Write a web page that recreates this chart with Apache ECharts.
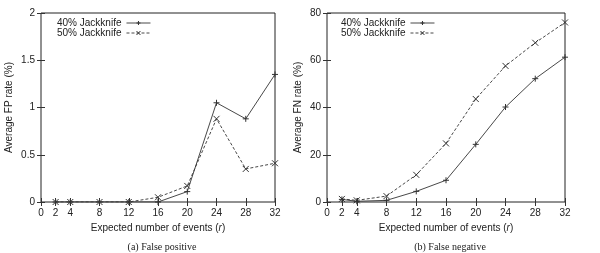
<!DOCTYPE html>
<html><head><meta charset="utf-8">
<script src="https://cdn.jsdelivr.net/npm/echarts@6/dist/echarts.min.js"></script>
<style>html,body{margin:0;padding:0;background:#fff}#c{width:600px;height:253px}</style>
</head><body><div id="c"></div>
<script>
const xValues = [2, 4, 8, 12, 16, 20, 24, 28, 32];
const xTicks = [0, 2, 4, 8, 12, 16, 20, 24, 28, 32];
const fp40 = [0, 0, 0, 0, 0, 0.11, 1.05, 0.88, 1.35];
const fp50 = [0, 0, 0, 0, 0.05, 0.17, 0.88, 0.35, 0.41];
const fn40 = [1.1, 0.3, 0.7, 4.5, 9.2, 24.4, 40.2, 52.2, 61.3];
const fn50 = [1.3, 0.7, 2.5, 11.5, 24.8, 43.6, 57.6, 67.4, 76.0];
const legendNames = ['40% Jackknife', '50% Jackknife'];
const captions = ['(a) False positive', '(b) False negative'];
const yNames = ['Average FP rate (%)', 'Average FN rate (%)'];

const FONT = 'Liberation Sans';
const C = '#333';
const plus = 'path://M0,5L10,5M5,0L5,10';
const cross = 'path://M0,0L10,10M10,0L0,10';
const pair = (xs, ys) => xs.map((x, i) => [x, ys[i]]);

function xAx(gi, top) {
  return {
    type: 'value', gridIndex: gi, min: 0, max: 32, position: top ? 'top' : 'bottom',
    axisLine: { show: false },
    axisTick: { show: true, inside: true, length: 4, customValues: xTicks, lineStyle: { color: C } },
    axisLabel: { show: !top, customValues: xTicks, color: '#222', fontFamily: FONT, fontSize: 10, margin: 6 },
    splitLine: { show: false },
    name: top ? '' : '{a|Expected number of events (}{b|r}{a|)}',
    nameLocation: 'middle', nameGap: 19,
    nameTextStyle: { rich: { a: { fontFamily: FONT, fontSize: 10, color: '#222' }, b: { fontFamily: FONT, fontSize: 10, fontStyle: 'italic', color: '#222' } } }
  };
}
function yAx(gi, right, max, interval, name, gap) {
  return {
    type: 'value', gridIndex: gi, min: 0, max: max, interval: interval, position: right ? 'right' : 'left',
    axisLine: { show: false },
    axisTick: { show: true, inside: true, length: 4, lineStyle: { color: C } },
    axisLabel: { show: !right, color: '#222', fontFamily: FONT, fontSize: 10, margin: 6 },
    splitLine: { show: false },
    name: right ? '' : name, nameLocation: 'middle', nameGap: gap, nameRotate: 90,
    nameTextStyle: { fontFamily: FONT, fontSize: 10, color: '#222' }
  };
}
function ser(name, data, xi, yi, dashed, sym) {
  return {
    name: name, type: 'line', xAxisIndex: xi, yAxisIndex: yi, data: data,
    symbol: sym, symbolSize: 6, showSymbol: true,
    lineStyle: { color: C, width: 0.9, type: dashed ? [3, 2] : 'solid' },
    itemStyle: { color: 'none', borderColor: C, borderWidth: 1 },
    emphasis: { disabled: true }, animation: false
  };
}
function leg(left) {
  return {
    left: left, top: 18, orient: 'vertical', align: 'right', itemWidth: 24, itemHeight: 5, itemGap: 0,
    textStyle: { fontFamily: FONT, fontSize: 10, color: '#222', lineHeight: 9, padding: [0, 0, 0, 0] },
    itemStyle: { color: 'none', borderColor: C, borderWidth: 1 },
    lineStyle: { width: 0.9, color: C },
    padding: 0,
    data: legendNames.map(n => ({ name: n })), selectedMode: false
  };
}

const chart = echarts.init(document.getElementById('c'), null, { renderer: 'canvas' });
chart.setOption({
  animation: false,
  grid: [
    { left: 41, right: 325, top: 13, bottom: 51, show: true, borderColor: '#222', borderWidth: 1 },
    { left: 327, right: 35, top: 13, bottom: 51, show: true, borderColor: '#222', borderWidth: 1 }
  ],
  xAxis: [xAx(0, false), xAx(0, true), xAx(1, false), xAx(1, true)],
  yAxis: [yAx(0, false, 2, 0.5, yNames[0], 27), yAx(0, true, 2, 0.5, '', 0),
          yAx(1, false, 80, 20, yNames[1], 24), yAx(1, true, 80, 20, '', 0)],
  legend: [leg(57), leg(341)],
  title: [
    { text: captions[0], left: 157, top: 237, textAlign: 'center', textStyle: { fontFamily: 'Liberation Serif', fontSize: 10, fontWeight: 'normal', color: '#222' } },
    { text: captions[1], left: 445, top: 237, textAlign: 'center', textStyle: { fontFamily: 'Liberation Serif', fontSize: 10, fontWeight: 'normal', color: '#222' } }
  ],
  series: [
    ser(legendNames[0], pair(xValues, fp40), 0, 0, false, plus),
    ser(legendNames[1], pair(xValues, fp50), 0, 0, true, cross),
    ser(legendNames[0], pair(xValues, fn40), 2, 2, false, plus),
    ser(legendNames[1], pair(xValues, fn50), 2, 2, true, cross)
  ]
});
</script></body></html>
